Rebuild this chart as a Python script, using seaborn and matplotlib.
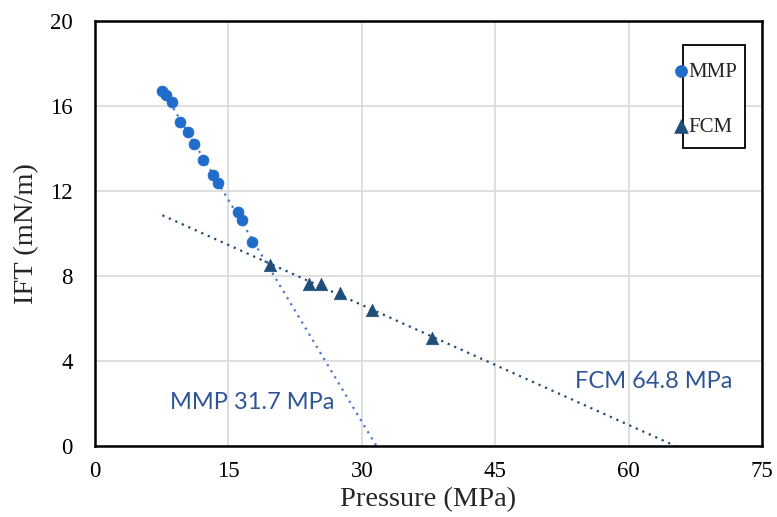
import numpy as np
import pandas as pd
import matplotlib
matplotlib.use("Agg")
import matplotlib.pyplot as plt
from matplotlib.patches import Rectangle
import seaborn as sns

# Data
mmp_pressure = [7.57, 7.95, 8.69, 9.56, 10.42, 11.13, 12.18, 13.27, 13.83, 16.04, 16.57, 17.65]
mmp_ift = [16.71, 16.53, 16.18, 15.24, 14.77, 14.19, 13.46, 12.77, 12.36, 10.99, 10.64, 9.59]
fcm_pressure = [19.68, 24.06, 25.38, 27.58, 31.11, 37.93]
fcm_ift = [8.54, 7.64, 7.61, 7.20, 6.42, 5.10]
x_ticks = [0, 15, 30, 45, 60, 75]
y_ticks = [0, 4, 8, 12, 16, 20]
mmp_label = "MMP 31.7 MPa"
fcm_label = "FCM 64.8 MPa"

sns.set_theme(style="white")
plt.rcParams["font.family"] = ["Liberation Serif", "DejaVu Serif"]

fig = plt.figure(figsize=(7.77, 5.17), dpi=100)
ax = fig.add_axes([0.1223, 0.1373, 0.8584, 0.8221])

mmp_df = pd.DataFrame({"Pressure": mmp_pressure, "IFT": mmp_ift})
fcm_df = pd.DataFrame({"Pressure": fcm_pressure, "IFT": fcm_ift})

# Linear trendlines (fit), extended to zero IFT
x_start = min(mmp_pressure)
m1, b1 = np.polyfit(mmp_pressure, mmp_ift, 1)
m2, b2 = np.polyfit(fcm_pressure, fcm_ift, 1)
x1 = np.array([x_start, -b1 / m1])
x2 = np.array([x_start, -b2 / m2])
sns.lineplot(x=x1, y=m1 * x1 + b1, ax=ax, color="#4A78C8", lw=1.6,
             linestyle=(0, (1, 2.2)), zorder=2)
sns.lineplot(x=x2, y=m2 * x2 + b2, ax=ax, color="#1F4E79", lw=1.6,
             linestyle=(0, (1, 2.2)), zorder=2)

sns.scatterplot(data=mmp_df, x="Pressure", y="IFT", ax=ax, marker="o", s=62,
                color="#1F6CCB", edgecolor="#1F6CCB", linewidth=0.5,
                label="MMP", zorder=3)
sns.scatterplot(data=fcm_df, x="Pressure", y="IFT", ax=ax, marker="^", s=80,
                color="#1F4E79", edgecolor="#1F4E79", linewidth=0.5,
                label="FCM", zorder=3)

ax.set_xlim(0, 75)
ax.set_ylim(0, 20)
ax.set_xticks(x_ticks)
ax.set_yticks(y_ticks)
ax.tick_params(axis="both", labelsize=16.5, length=0, colors="black")
ax.tick_params(axis="x", pad=11)
ax.tick_params(axis="y", pad=16)
ax.grid(True, color="#D9D9D9", lw=1.2)
ax.set_axisbelow(True)
for sp in ax.spines.values():
    sp.set_color("black")
    sp.set_linewidth(1.8)

ax.set_xlabel("Pressure (MPa)", fontsize=20.5)
ax.xaxis.set_label_coords(0.5, -0.097)
ax.set_ylabel("IFT (mN/m)", fontsize=20.5, labelpad=8)

ax.text(8.4, 2.05, mmp_label, fontsize=17, color="#2F5597", va="center",
        ha="left", family=["Lato", "DejaVu Sans"])
ax.text(54.0, 3.05, fcm_label, fontsize=17, color="#2F5597", va="center",
        ha="left", family=["Lato", "DejaVu Sans"])

# Legend box
ax.add_patch(Rectangle((0.882, 0.701), 0.093, 0.243, transform=ax.transAxes,
                       facecolor="white", edgecolor="black", lw=1.3, zorder=4))
leg = ax.legend(loc="center left", bbox_to_anchor=(0.867, 0.8155), fontsize=15,
                frameon=False, labelspacing=1.7, markerscale=1.1,
                handletextpad=0.1, handlelength=0.5, borderpad=0.1,
                borderaxespad=0)
leg.set_zorder(5)

fig.savefig("out.png", dpi=100)
